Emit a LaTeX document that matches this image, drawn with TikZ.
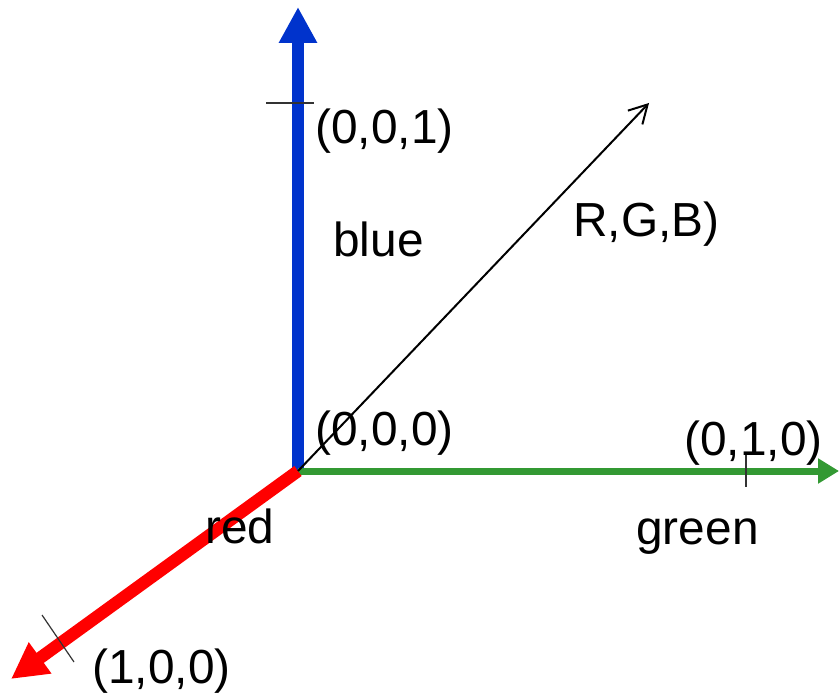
\documentclass[tikz,border=0pt]{standalone}
\usepackage{fontspec}
\setmainfont{Liberation Sans}
\usetikzlibrary{arrows.meta}
\definecolor{axblue}{RGB}{0,51,204}
\definecolor{axgreen}{RGB}{51,153,51}
\definecolor{axred}{RGB}{255,0,0}
\definecolor{tickgray}{RGB}{51,51,51}
\begin{document}
\begin{tikzpicture}[x=0.5pt,y=-0.5pt,
  lbl/.style={anchor=base west,inner sep=0pt,font=\fontsize{23.9}{28}\selectfont},
  tickline/.style={draw=tickgray,line width=0.6pt},
  bigaxis/.style={line width=6.2pt,-{Triangle[length=18pt,width=18pt]}},
  diag/.style={line width=1pt,-{Straight Barb[length=9pt,width=10pt]}}]
\path[use as bounding box] (0,0) rectangle (839,699);
\coordinate (O) at (298,471);
\coordinate (B) at (298,7);
\coordinate (G) at (839,471);
\coordinate (R) at (11,679);
\coordinate (D) at (649,103);
\coordinate (tb1) at (266,103);
\coordinate (tb2) at (314,103);
\coordinate (tg1) at (746,455);
\coordinate (tg2) at (746,487);
\coordinate (tr1) at (42,615);
\coordinate (tr2) at (74,662);
% axes
\draw[bigaxis,axblue] (O) -- (B);
\draw[axgreen,line width=3.5pt,-{Triangle[length=10.5pt,width=12pt]}] (O) -- (G);
\draw[bigaxis,axred] (O) -- (R);
% ticks
\draw[tickline] (tb1) -- (tb2);
\draw[tickline] (tg1) -- (tg2);
\draw[tickline] (tr1) -- (tr2);
% diagonal
\draw[diag] (O) -- (D);
% labels
\node[lbl] (l001) at (315,144) {(0,0,1)};
\node[lbl] (lblue) at (333,257) {blue};
\node[lbl] (lrgb) at (573,237) {R,G,B)};
\node[lbl] (l000) at (315,445) {(0,0,0)};
\node[lbl] (l010) at (684,455) {(0,1,0)};
\node[lbl] (lred) at (205,543) {red};
\node[lbl] (lgreen) at (636,544) {green};
\node[lbl] (l100) at (92,683) {(1,0,0)};
\end{tikzpicture}
\end{document}
